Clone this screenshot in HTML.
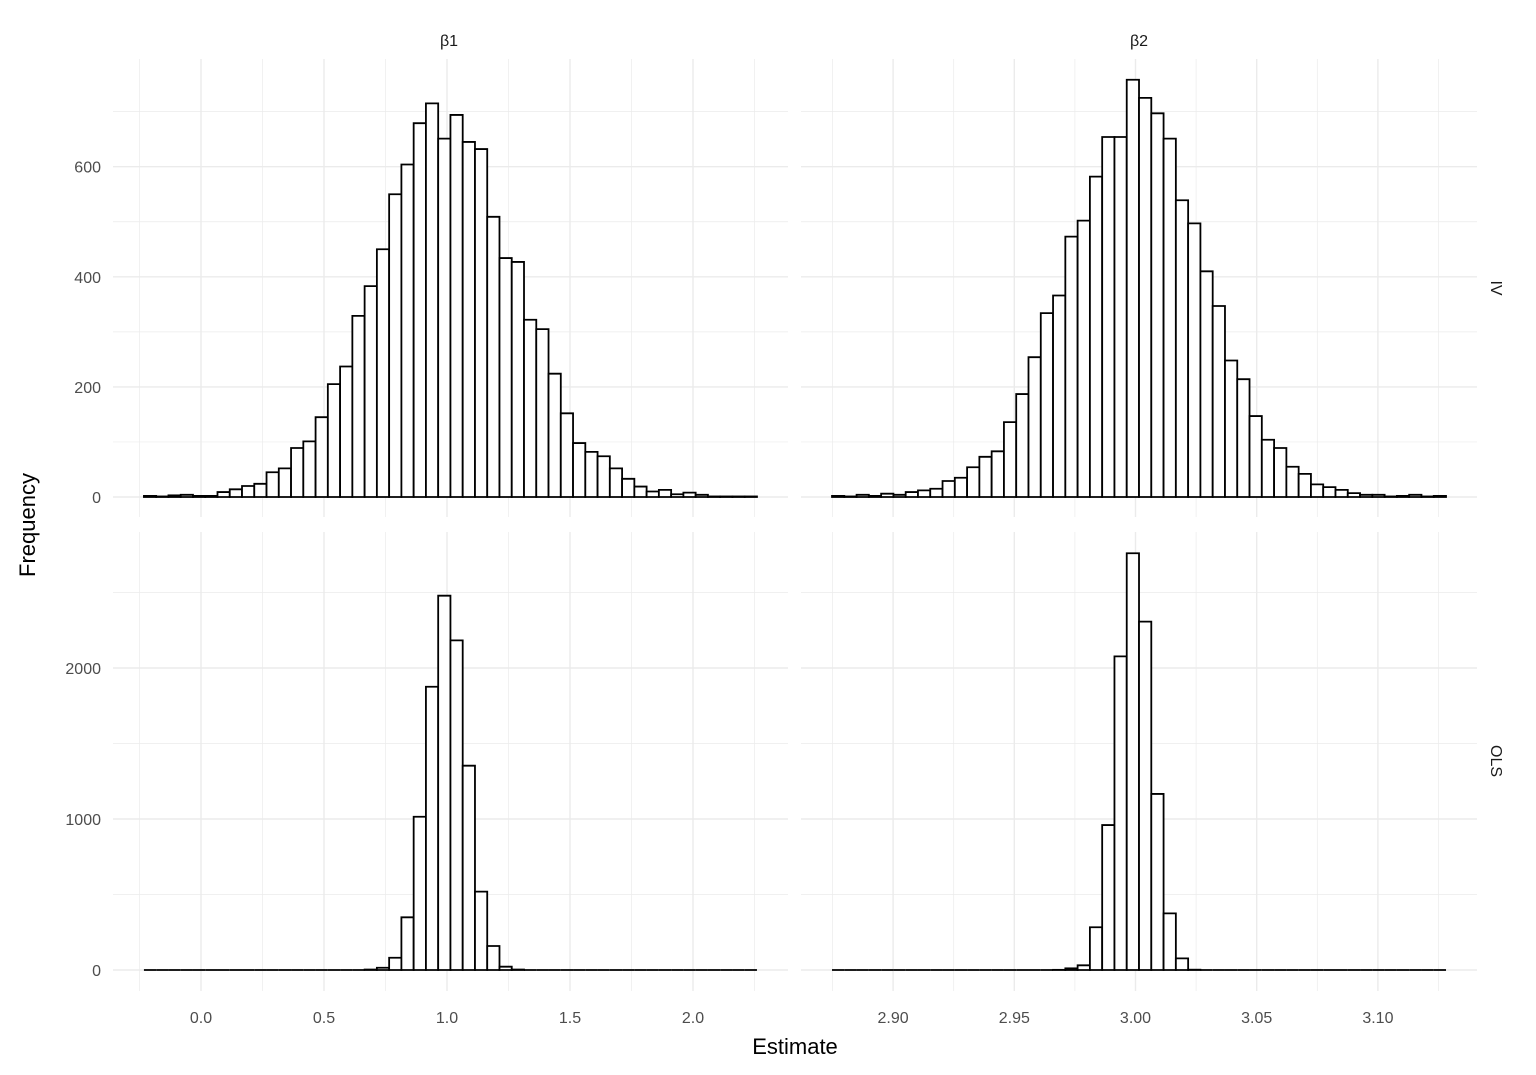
<!DOCTYPE html>
<html><head><meta charset="utf-8"><style>
html,body{margin:0;padding:0;background:#fff;}
svg{display:block;font-family:"Liberation Sans",Arial,sans-serif;}
</style></head><body>
<svg id="chart" width="1536" height="1075" viewBox="0 0 1536 1075" xmlns="http://www.w3.org/2000/svg">
<rect width="1536" height="1075" fill="#fff"/>
<g id="grid"></g><g id="bars"></g><g id="labels"></g>
<text x="449" y="46" font-size="16" fill="#1a1a1a" text-anchor="middle">β1</text>
<text x="1139" y="46" font-size="16" fill="#1a1a1a" text-anchor="middle">β2</text>
<text transform="translate(1491,288) rotate(90)" font-size="16" fill="#1a1a1a" text-anchor="middle">IV</text>
<text transform="translate(1491,761) rotate(90)" font-size="16" fill="#1a1a1a" text-anchor="middle">OLS</text>
<text transform="translate(35,525) rotate(-90)" font-size="22" fill="#000" text-anchor="middle">Frequency</text>
<text x="795" y="1054" font-size="22" fill="#000" text-anchor="middle">Estimate</text>
</svg>
<script>
// ---- data ----
const ivBeta1 = [2,1,3,4,2,2,9,14,20,24,45,52,89,101,145,205,237,329,383,450,550,604,679,715,651,694,645,632,509,434,427,322,305,224,152,98,82,74,52,33,19,10,13,5,8,4,1,1,1,1];
const ivBeta2 = [2,1,4,2,6,4,9,12,15,29,35,54,73,83,136,187,254,334,366,473,502,582,654,654,758,725,697,651,539,497,410,347,248,214,147,104,89,55,42,23,18,13,7,4,4,1,2,4,1,2];
const olsBeta1 = [0,0,0,0,0,0,0,0,0,0,0,0,0,0,0,0,0,0,3,15,81,349,1015,1876,2479,2183,1353,519,159,22,3,0,0,0,0,0,0,0,0,0,0,0,0,0,0,0,0,0,0,0];
const olsBeta2 = [0,0,0,0,0,0,0,0,0,0,0,0,0,0,0,0,0,0,1,11,31,283,960,2077,2760,2307,1166,375,77,2,0,0,0,0,0,0,0,0,0,0,0,0,0,0,0,0,0,0,0,0];
const binStartBeta1 = -0.232, binWidthBeta1 = 0.04984;
const binStartBeta2 = 2.8748, binWidthBeta2 = 0.005066;
const xTicksBeta1 = ["0.0","0.5","1.0","1.5","2.0"];
const xTicksBeta2 = ["2.90","2.95","3.00","3.05","3.10"];
const yTicksIV = ["0","200","400","600"];
const yTicksOLS = ["0","1000","2000"];

const NS="http://www.w3.org/2000/svg";
function mk(tag,attrs,parent){const e=document.createElementNS(NS,tag);for(const k in attrs)e.setAttribute(k,attrs[k]);parent.appendChild(e);return e;}
const gGrid=document.getElementById('grid'),gBars=document.getElementById('bars'),gLab=document.getElementById('labels');

const xB1=v=>201+(v-0)*246;
const xB2=v=>1135.5+(v-3)*2424;
const yIV=v=>497-v*0.5505;
const yOLS=v=>970-v*0.151;
const cols=[{x:xB1,x0:113,x1:788,ticks:xTicksBeta1,minor:[-0.25,0.25,0.75,1.25,1.75,2.25]},
            {x:xB2,x0:801,x1:1477,ticks:xTicksBeta2,minor:[2.875,2.925,2.975,3.025,3.075,3.125]}];
const rows=[{y:yIV,y0:59,y1:517,ticks:yTicksIV,minor:[100,300,500,700]},
            {y:yOLS,y0:532,y1:991,ticks:yTicksOLS,minor:[500,1500,2500]}];

rows.forEach((r,ri)=>cols.forEach((c,ci)=>{
  r.minor.forEach(v=>{const l=mk('line',{x1:c.x0,x2:c.x1,y1:r.y(v),y2:r.y(v),stroke:'#ebebeb','stroke-width':0.7},gGrid);
    });
  c.minor.forEach(v=>{const l=mk('line',{x1:c.x(v),x2:c.x(v),y1:r.y0,y2:r.y1,stroke:'#ebebeb','stroke-width':0.7},gGrid);
    });
  r.ticks.forEach(t=>{const v=+t;const l=mk('line',{x1:c.x0,x2:c.x1,y1:r.y(v),y2:r.y(v),stroke:'#ebebeb','stroke-width':1.4},gGrid);
    });
  c.ticks.forEach(t=>{const v=+t;const l=mk('line',{x1:c.x(v),x2:c.x(v),y1:r.y0,y2:r.y1,stroke:'#ebebeb','stroke-width':1.4},gGrid);
    });
}));

const panels=[{d:ivBeta1,s:binStartBeta1,w:binWidthBeta1,x:xB1,y:yIV,n:'iv-beta1'},
              {d:ivBeta2,s:binStartBeta2,w:binWidthBeta2,x:xB2,y:yIV,n:'iv-beta2'},
              {d:olsBeta1,s:binStartBeta1,w:binWidthBeta1,x:xB1,y:yOLS,n:'ols-beta1'},
              {d:olsBeta2,s:binStartBeta2,w:binWidthBeta2,x:xB2,y:yOLS,n:'ols-beta2'}];
panels.forEach(p=>{
  p.d.forEach((v,i)=>{
    const xa=p.x(p.s+i*p.w),xb=p.x(p.s+(i+1)*p.w),ya=p.y(v),yb=p.y(0);
    const d=`M${xa},${yb}L${xa},${ya}L${xb},${ya}L${xb},${yb}Z`;
    const r=mk('path',{d:d,fill:'#fff',stroke:'#000','stroke-width':1.8},gBars);
    
    
  });
});

rows.forEach(r=>r.ticks.forEach(t=>{
  const e=mk('text',{x:101,y:r.y(+t)+6,'font-size':16,fill:'#4d4d4d','text-anchor':'end'},gLab);e.textContent=t;
  
}));
cols.forEach(c=>c.ticks.forEach(t=>{
  const e=mk('text',{x:c.x(+t),y:1023,'font-size':16,fill:'#4d4d4d','text-anchor':'middle'},gLab);e.textContent=t;
  
}));
</script>
</body></html>
